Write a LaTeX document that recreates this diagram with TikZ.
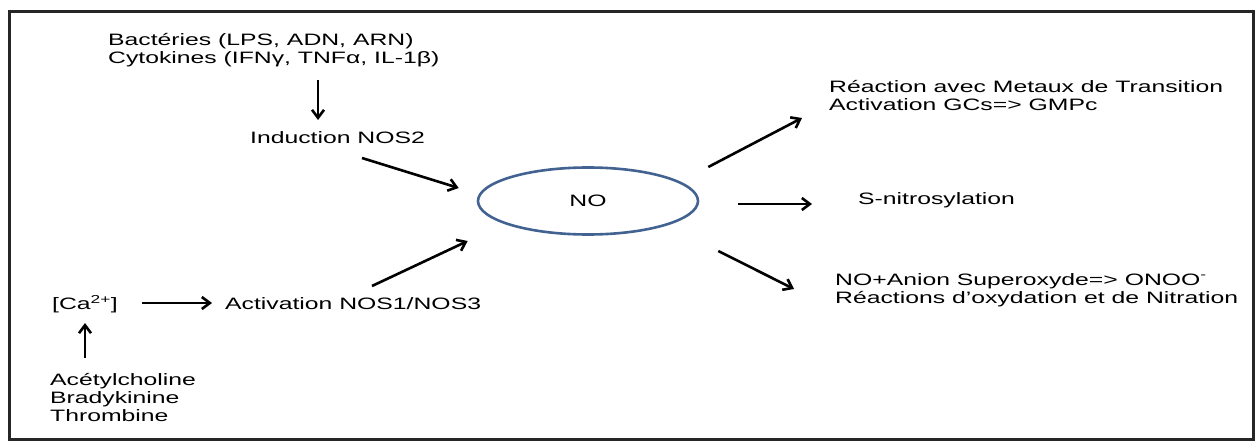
\documentclass[tikz,border=0pt]{standalone}
\usepackage{fontspec}
\setmainfont{Liberation Sans}[FakeStretch=1.5]
\usepackage{tikz}
\usetikzlibrary{arrows.meta, shapes.geometric}
\definecolor{bleuno}{RGB}{66,98,145}
\definecolor{cadre}{RGB}{38,38,38}

\begin{document}
\begin{tikzpicture}[x=1pt, y=-1pt,
		txt/.style={inner sep=0pt, anchor=west, align=left, font=\fontsize{16.5}{18}\selectfont, text=black},
		fl/.style={-{Straight Barb[length=8pt,width=12pt]}, line width=2.6pt}]
		\useasboundingbox (0,0) rectangle (1255,441);
		\draw[cadre, line width=3pt] (9,12) rectangle (1253,439.5);

		% Blocs
		\node[txt] (src) at (108,50) {Bactéries (LPS, ADN, ARN)\\Cytokines (IFNγ, TNFα, IL-1β)};
		\node[txt] (nos2) at (250,138) {Induction NOS2};
		\node[draw=bleuno, line width=2.6pt, ellipse, minimum width=220pt, minimum height=67pt, font=\fontsize{16.5}{18}\selectfont] (no) at (588,201) {NO};

		\node[txt] (ca) at (52,304) {[Ca\textsuperscript{2+}]};
		\node[txt] (act) at (225,304) {Activation NOS1/NOS3};
		\node[txt] (ago) at (50,398) {Acétylcholine\\Bradykinine\\Thrombine};

		\node[txt] (r1) at (829,96) {Réaction avec Metaux de Transition\\Activation GCs=> GMPc};
		\node[txt] (r2) at (858,200) {S-nitrosylation};
		\node[txt] (r3) at (835,290) {NO+Anion Superoxyde=> ONOO\textsuperscript{-}\\Réactions d’oxydation et de Nitration};

		% Flèches
		\draw[fl] ([shift={(210,30)}]src.west) -- ([shift={(68,-18)}]nos2.west);
		\draw[fl] ([shift={(112,20)}]nos2.west) -- ([shift={(-18,-13)}]no.west);
		\draw[fl] ([shift={(147,-18)}]act.west) -- ([shift={(-9,40)}]no.west);
		\draw[fl] ([shift={(90,-1)}]ca.west) -- ([shift={(-13,-1)}]act.west);
		\draw[fl] ([shift={(35,-40)}]ago.west) -- ([shift={(33,19)}]ca.west);
		\draw[fl] ([shift={(9,-34)}]no.east) -- ([shift={(-27,22)}]r1.west);
		\draw[fl] ([shift={(39,3)}]no.east) -- ([shift={(-46,4)}]r2.west);
		\draw[fl] ([shift={(19,50)}]no.east) -- ([shift={(-41,-1)}]r3.west);
	\end{tikzpicture}
\end{document}
